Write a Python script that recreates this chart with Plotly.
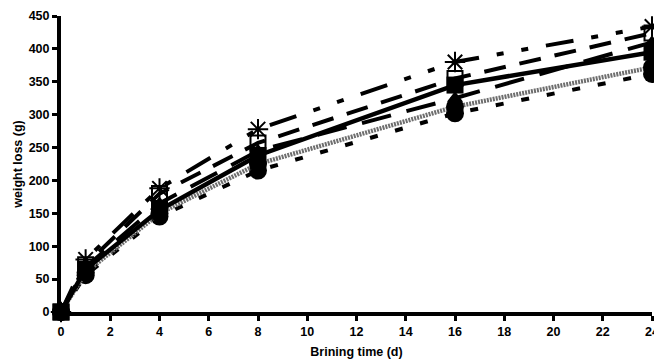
import plotly.graph_objects as go

days = [0, 1, 4, 8, 16, 24]
s_asterisk = [0, 80, 188, 278, 380, 434]
s_open_square = [0, 72, 180, 257, 355, 424]
s_triangle = [0, 68, 165, 245, 325, 410]
s_solid = [0, 65, 155, 238, 345, 395]
s_gray = [0, 60, 150, 225, 312, 372]
s_short = [0, 56, 145, 215, 302, 362]

x_ticks = list(range(0, 25, 2))
y_ticks = list(range(0, 451, 50))

series = [
    dict(y=s_short, line=dict(color="black", width=4, dash="8px,18px"),
         marker=dict(symbol="circle", size=18, color="black")),
    dict(y=s_gray, line=dict(color="#6e6e6e", width=4.5, dash="2px,1px"),
         marker=dict(symbol="circle", size=18, color="black")),
    dict(y=s_solid, line=dict(color="black", width=4.5),
         marker=dict(symbol="square", size=17, color="black")),
    dict(y=s_triangle, line=dict(color="black", width=4, dash="30px,16px"),
         marker=dict(symbol="triangle-up", size=14, color="black")),
    dict(y=s_open_square, line=dict(color="black", width=4, dash="22px,14px"),
         marker=dict(symbol="square-open", size=15, color="black", line=dict(width=2, color="black"))),
    dict(y=s_asterisk, line=dict(color="black", width=4, dash="28px,18px,7px,18px,7px,18px"),
         marker=dict(symbol="asterisk-open", size=17, color="black", line=dict(width=2, color="black"))),
]

fig = go.Figure()
for s in series:
    fig.add_trace(go.Scatter(x=days, y=s["y"], mode="lines+markers",
                             line=s["line"], marker=s["marker"],
                             cliponaxis=False, showlegend=False))

font_bold = dict(family="Liberation Sans, Arial, sans-serif", size=12.5, color="black", weight="bold")

# page body adds an 8px margin, so the figure is sized to fit the 662x362 window
fig.update_layout(
    width=654, height=354,
    margin=dict(l=53, r=10, t=8, b=50, autoexpand=False),
    paper_bgcolor="white", plot_bgcolor="white",
    xaxis=dict(range=[0, 24], tickvals=x_ticks, ticktext=[str(v) for v in x_ticks],
               showline=True, linewidth=4, linecolor="black", showgrid=False, zeroline=False,
               ticks="outside", ticklen=5, tickwidth=3, tickcolor="black",
               tickfont=font_bold, automargin=False,
               title=dict(text="Brining time (d)", font=font_bold, standoff=10)),
    yaxis=dict(range=[0, 450], tickvals=y_ticks, ticktext=[str(v) for v in y_ticks],
               showline=True, linewidth=4, linecolor="black", showgrid=False, zeroline=False,
               ticks="outside", ticklen=5, tickwidth=3, tickcolor="black",
               tickfont=font_bold, automargin=False,
               title=dict(text="weight loss (g)", font=font_bold, standoff=4)),
)

fig.write_html("out.html")
